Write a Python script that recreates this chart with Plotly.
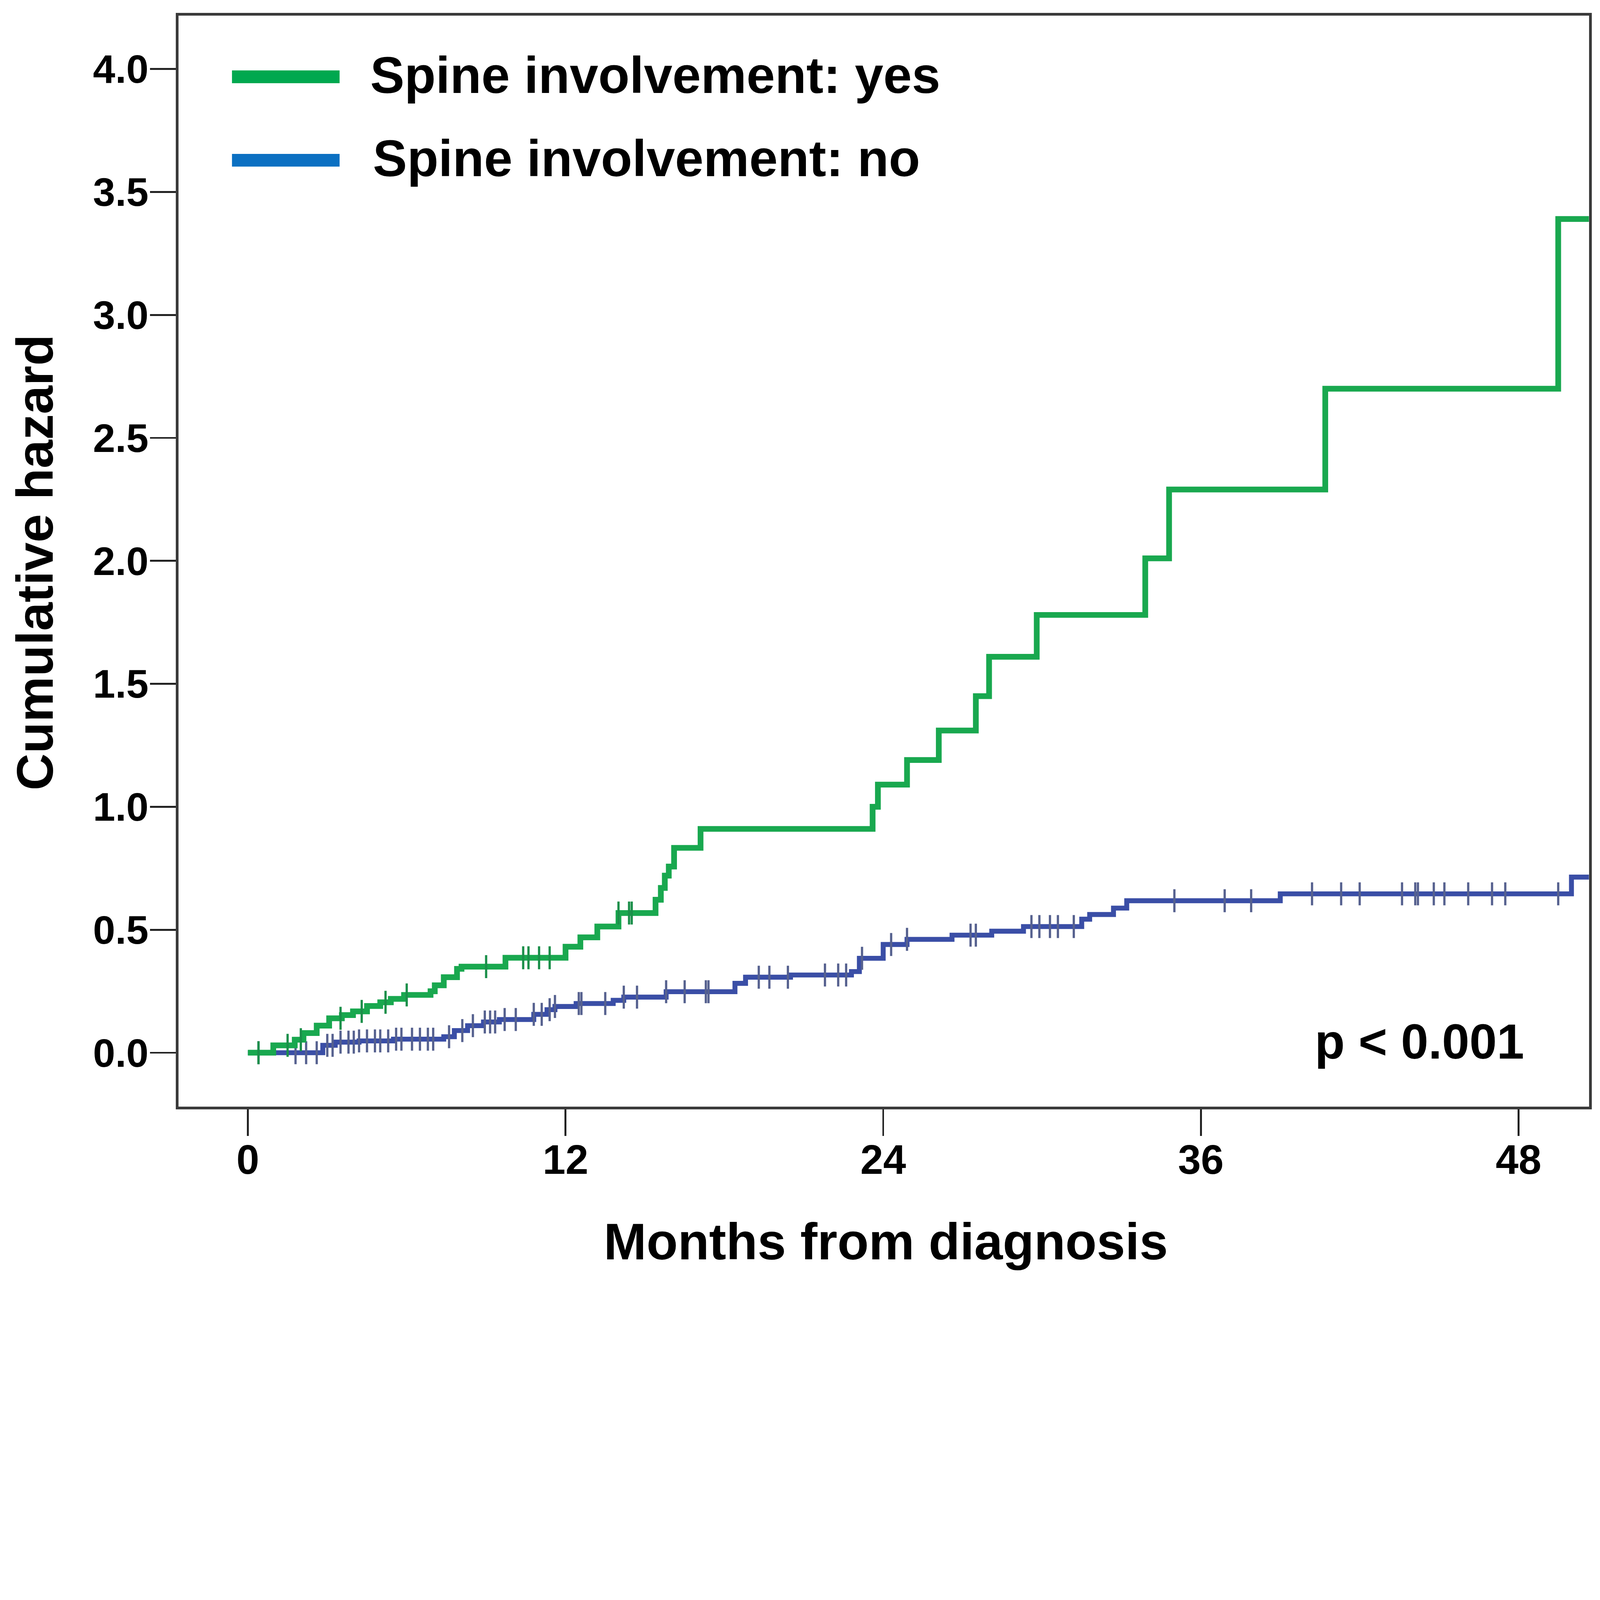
import numpy as np
import plotly.graph_objects as go

# ---- data ----
yes_times = [0, 0.96, 1.77, 2.1, 2.6, 3.07, 3.55, 3.97, 4.5, 5.0, 5.4, 5.9, 6.9, 7.06, 7.4, 7.9, 8.07,
             9.73, 12.0, 12.56, 13.2, 14.0, 15.4, 15.6, 15.75, 15.9, 16.1, 17.1, 23.6, 23.8, 24.9,
             26.1, 27.5, 28.0, 29.8, 33.9, 34.8, 40.7, 49.5, 50.7]
yes_hazard = [0, 0.03, 0.053, 0.08, 0.11, 0.14, 0.153, 0.168, 0.19, 0.205, 0.219, 0.235, 0.25, 0.274,
              0.307, 0.341, 0.35, 0.386, 0.431, 0.469, 0.513, 0.568, 0.622, 0.67, 0.72, 0.757, 0.833,
              0.91, 1.0, 1.09, 1.19, 1.31, 1.45, 1.61, 1.78, 2.01, 2.29, 2.70, 3.39, 3.39]
yes_censored = [0.4, 1.5, 2.0, 3.5, 4.3, 5.2, 6.0, 9.0, 10.4, 10.6, 11.0, 11.4, 14.0, 14.4, 14.5]

no_times = [0, 2.83, 3.3, 4.2, 5.5, 7.4, 7.8, 8.3, 8.9, 9.5, 10.8, 11.3, 11.6, 12.4, 13.8, 14.2, 15.8,
            18.4, 18.8, 20.5, 22.8, 23.1, 24.0, 24.9, 26.6, 28.1, 29.3, 31.5, 31.8, 32.7, 33.2, 39.0,
            50.0, 50.7]
no_hazard = [0, 0.03, 0.043, 0.048, 0.055, 0.065, 0.09, 0.11, 0.125, 0.135, 0.156, 0.175, 0.188, 0.20,
             0.213, 0.226, 0.248, 0.282, 0.307, 0.316, 0.33, 0.384, 0.44, 0.461, 0.478, 0.494, 0.513,
             0.543, 0.562, 0.588, 0.618, 0.646, 0.714, 0.714]
no_censored = [0.4, 1.8, 2.2, 2.6, 3.0, 3.2, 3.5, 3.8, 4.0, 4.2, 4.5, 4.8, 5.0, 5.3, 5.6, 5.8, 6.2,
               6.5, 6.8, 7.0, 7.6, 8.1, 8.5, 8.95, 9.15, 9.34, 9.70,
               10.12, 10.8, 11.1, 11.4, 11.6, 12.5, 12.6, 13.5, 14.2, 14.7, 15.8, 16.5, 17.3, 17.4,
               19.3, 19.7, 20.4, 21.8, 22.3, 22.6, 23.2, 24.3, 24.9, 27.3, 27.5, 29.6, 29.9, 30.3,
               30.6, 31.2, 35.0, 36.9, 37.9, 40.2, 41.3, 42.0, 43.6, 44.1, 44.2, 44.8, 45.2, 46.1,
               47.0, 47.5, 49.5]

x_ticks = [0, 12, 24, 36, 48]
y_ticks = [0, 0.5, 1.0, 1.5, 2.0, 2.5, 3.0, 3.5, 4.0]
series_names = ["Spine involvement: yes", "Spine involvement: no"]
x_title = "Months from diagnosis"
y_title = "Cumulative hazard"
p_text = "p < 0.001"

FIG_W, FIG_H = 7797, 6284


def step_value(times, vals, t):
    idx = np.searchsorted(np.asarray(times), np.asarray(t), side="right") - 1
    return np.asarray(vals)[idx]


GREEN = "#19a84f"
BLUE = "#3a4ea6"
FONT = "Liberation Sans, Arial, sans-serif"

fig = go.Figure()
fig.add_trace(go.Scatter(x=no_times, y=no_hazard, mode="lines",
                         line=dict(shape="hv", color=BLUE, width=24), showlegend=False))
fig.add_trace(go.Scatter(x=no_censored, y=step_value(no_times, no_hazard, no_censored), mode="markers",
                         marker=dict(symbol="line-ns", size=80, line=dict(width=11, color="#56618f")),
                         showlegend=False))
fig.add_trace(go.Scatter(x=yes_times, y=yes_hazard, mode="lines",
                         line=dict(shape="hv", color=GREEN, width=28), showlegend=False))
fig.add_trace(go.Scatter(x=yes_censored, y=step_value(yes_times, yes_hazard, yes_censored), mode="markers",
                         marker=dict(symbol="line-ns", size=80, line=dict(width=11, color="#1b8f4a")),
                         showlegend=False))

# manual legend (long swatches as in the reference)
legend_items = [(series_names[0], "#00a84f", 0.9439, 0.9454, 0.1356),
                (series_names[1], "#0b70c2", 0.8674, 0.8691, 0.1375)]
shapes = []
annotations = []
for name, col, yline, ytext, xtext in legend_items:
    shapes.append(dict(type="line", xref="paper", yref="paper", x0=0.0379, x1=0.1142, y0=yline, y1=yline,
                       line=dict(color=col, width=62)))
    annotations.append(dict(text=name, xref="paper", yref="paper", x=xtext, y=ytext, xanchor="left",
                            yanchor="middle", showarrow=False,
                            font=dict(family=FONT, size=250, color="black", weight="bold")))

annotations.append(dict(text=p_text, x=44.26, y=0.046, xref="x", yref="y", xanchor="center",
                        yanchor="middle", showarrow=False,
                        font=dict(family=FONT, size=240, color="black", weight="bold")))
# axis titles
annotations.append(dict(text=x_title, xref="paper", yref="paper", x=0.5016, y=-0.1240, xanchor="center",
                        yanchor="middle", showarrow=False,
                        font=dict(family=FONT, size=250, color="black", weight="bold")))
annotations.append(dict(text=y_title, xref="paper", yref="paper", x=-0.1019, y=0.4988, xanchor="center",
                        yanchor="middle", textangle=-90, showarrow=False,
                        font=dict(family=FONT, size=250, color="black", weight="bold")))

fig.update_layout(
    width=FIG_W, height=FIG_H,
    margin=dict(l=870, r=54, t=76, b=892),
    paper_bgcolor="white", plot_bgcolor="white",
    shapes=shapes, annotations=annotations,
    font=dict(family=FONT, color="black"),
)
fig.update_xaxes(range=[-2.62, 50.66], tickvals=x_ticks, ticks="outside", ticklen=130, tickwidth=9,
                 tickcolor="#222", showline=True, mirror=True, linewidth=14, linecolor="#3a3a3a",
                 showgrid=False, zeroline=False, ticklabelstandoff=-56,
                 tickfont=dict(family=FONT, size=200, color="black", weight="bold"))
fig.update_yaxes(range=[-0.2186, 4.217], tickvals=y_ticks, tickformat=".1f",
                 ticks="outside", ticklen=125, tickwidth=9, tickcolor="#222",
                 showline=True, mirror=True, linewidth=14, linecolor="#3a3a3a",
                 showgrid=False, zeroline=False, ticklabelstandoff=-32,
                 tickfont=dict(family=FONT, size=195, color="black", weight="bold"))

# remove the default page margin; only if the window is smaller than the figure, shrink it to fit
fit_js = ("document.body.style.margin='0';"
          "var d=document.getElementById('{plot_id}');"
          "var s=Math.min(window.innerWidth/%d, window.innerHeight/%d, 1);"
          "if(s<1){d.style.transformOrigin='0 0';d.style.transform='scale('+s+')';}" % (FIG_W, FIG_H))
fig.write_html("out.html", post_script=fit_js, config={"displayModeBar": False})
